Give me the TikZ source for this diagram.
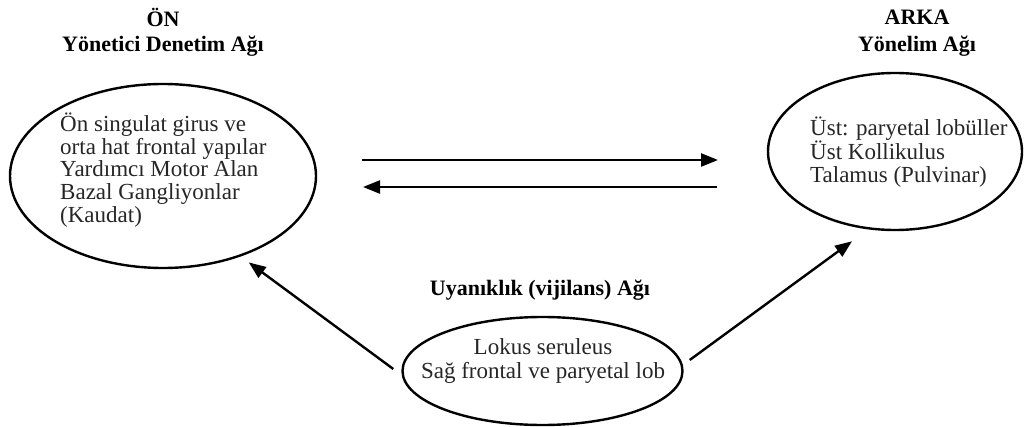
\documentclass[tikz,border=0pt]{standalone}
\usepackage{fontspec}
\setmainfont{Liberation Serif}
\usetikzlibrary{shapes.geometric,arrows.meta}
\begin{document}
\begin{tikzpicture}[x=1pt,y=-1pt,
  ell/.style={draw=black,line width=2.4pt,ellipse,inner sep=0pt},
  body/.style={font=\fontsize{23}{22.6}\selectfont,inner sep=0pt,align=left,text=black!85},
  ttl/.style={font=\fontsize{22}{29}\selectfont\bfseries,inner sep=0pt,align=center},
  arr/.style={line width=2.4pt,-{Triangle[length=17pt,width=13pt]}}]
\useasboundingbox (0,0) rectangle (1027,427);
% ellipses
\node[ell,minimum width=306pt,minimum height=184pt] (L) at (163,176) {};
\node[ell,minimum width=254pt,minimum height=157pt] (R) at (895,151.5) {};
\node[ell,minimum width=280pt,minimum height=108pt] (B) at (542.5,371) {};
% titles
\node[ttl] (Lt1) at (163,17) {ÖN};
\node[ttl] (Lt2) at (163,46) {Yönetici Denetim Ağı};
\node[ttl] (Rt1) at (917,17) {ARKA};
\node[ttl] (Rt2) at (917,46) {Yönelim Ağı};
\node[ttl] (Bt) at (540,290) {Uyanıklık (vijilans) Ağı};
% texts
\node[body,anchor=west] (Ltx) at (60,170) {Ön singulat girus ve\\orta hat frontal yapılar\\Yardımcı Motor Alan\\Bazal Gangliyonlar\\(Kaudat)};
\node[body,anchor=west] (Rtx) at (810,152) {Üst: paryetal lobüller\\Üst Kollikulus\\Talamus (Pulvinar)};
\node[body,align=center,font=\fontsize{23}{24}\selectfont] (Btx) at (543,361) {Lokus seruleus\\Sağ frontal ve paryetal lob};
% horizontal arrows
\coordinate (h1s) at (362,160);
\coordinate (h1e) at (718,160);
\coordinate (h2s) at (717,187);
\coordinate (h2e) at (363,187);
\draw[arr] (h1s) -- (h1e);
\draw[arr] (h2s) -- (h2e);
% diagonal arrows
\draw[arr,shorten >=10pt] ([shift={(-8pt,2pt)}]B.west) -- (L.-46);
\draw[arr,shorten >=20pt] ([shift={(6pt,11pt)}]B.east) -- (R.-109);
\end{tikzpicture}
\end{document}
